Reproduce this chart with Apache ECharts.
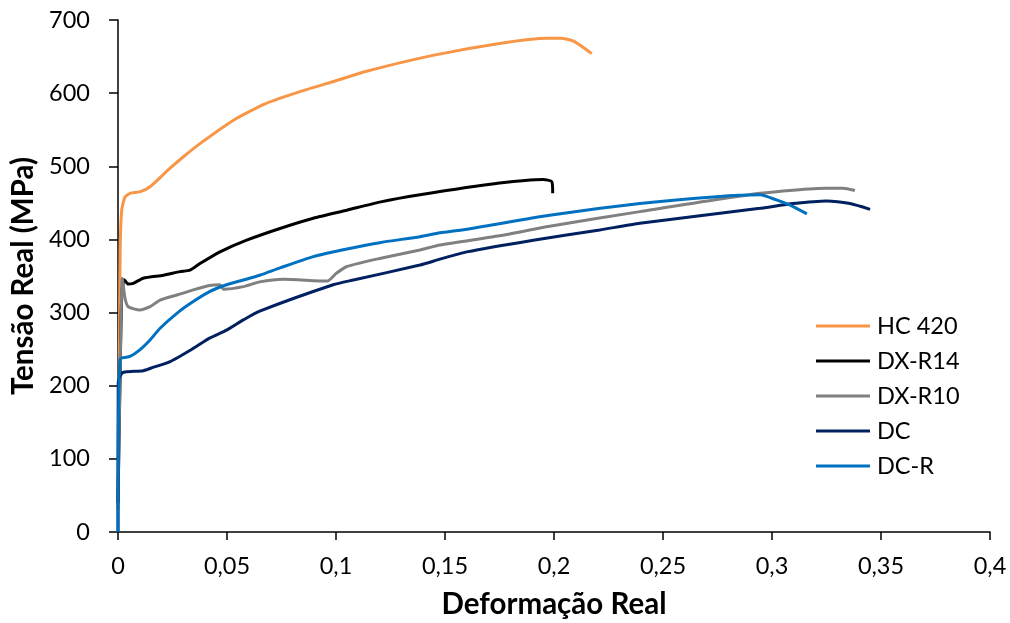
<!DOCTYPE html>
<html>
<head>
<meta charset="utf-8">
<script src="https://cdn.jsdelivr.net/npm/echarts@6/dist/echarts.min.js"></script>
<style>
  html, body { margin: 0; padding: 0; background: #fff; }
  #chart { width: 1010px; height: 623px; }
</style>
</head>
<body>
<div id="chart"></div>
<script>
// strain / stress pairs
const seriesNames = ['HC 420', 'DX-R14', 'DX-R10', 'DC', 'DC-R']
const seriesColors = ['#F79646', '#000000', '#808080', '#002060', '#0070C0']

const hcStrain = [0, 0.0005, 0.001, 0.0017, 0.0032, 0.0055, 0.010, 0.0147, 0.023, 0.030, 0.0376, 0.053, 0.068, 0.0835, 0.100, 0.114, 0.145, 0.175, 0.197, 0.203, 0.209, 0.2173]
const hcStress = [30, 200, 386, 440, 458, 463, 465, 472, 495, 513, 531, 563, 586, 602, 617, 630, 652, 668, 675, 675, 671, 654]

const r14Strain = [0, 0.001, 0.0017, 0.0028, 0.0047, 0.007, 0.0116, 0.0208, 0.0284, 0.033, 0.0376, 0.0468, 0.059, 0.0743, 0.0896, 0.105, 0.120, 0.1385, 0.175, 0.195, 0.199, 0.1994]
const r14Stress = [40, 220, 321, 345, 339, 340, 347, 351, 356, 358, 367, 383, 399, 415, 429, 440, 451, 461, 477, 482, 479, 463]

const r10Strain = [0, 0.001, 0.002, 0.0032, 0.0047, 0.010, 0.0147, 0.0193, 0.027, 0.0345, 0.042, 0.0468, 0.0483, 0.0575, 0.065, 0.0758, 0.096, 0.1003, 0.105, 0.120, 0.1385, 0.1477, 0.175, 0.198, 0.2394, 0.2945, 0.325, 0.3326, 0.338]
const r10Stress = [40, 230, 347, 320, 308, 303.5, 308, 317, 324, 331, 337, 338, 332, 335.5, 342, 345.6, 343, 354, 363, 374, 385.6, 392.4, 405, 418, 438, 463, 470, 470, 467]

const dcStrain = [0, 0.0001, 0.0017, 0.004, 0.0116, 0.016, 0.0239, 0.0345, 0.042, 0.0498, 0.0575, 0.065, 0.0987, 0.108, 0.1385, 0.1477, 0.16, 0.1905, 0.221, 0.2394, 0.2945, 0.3097, 0.325, 0.3358, 0.345]
const dcStress = [0, 204, 217, 219, 220.6, 225, 233, 251, 265, 276, 290, 302, 338, 344.5, 365, 373, 383, 399, 413, 422, 442.6, 449, 452.6, 449, 441]

const dcrStrain = [0, 0.0009, 0.0055, 0.010, 0.0147, 0.0193, 0.027, 0.0345, 0.042, 0.0498, 0.0575, 0.065, 0.0743, 0.0896, 0.105, 0.120, 0.1385, 0.1477, 0.16, 0.198, 0.2394, 0.2746, 0.2945, 0.302, 0.3097, 0.316]
const dcrStress = [0, 236, 240, 249, 262.5, 278.5, 299, 315, 328.6, 338, 344.5, 351, 361, 376.5, 387, 395.6, 403.8, 409, 414, 433, 449, 458.5, 461, 454, 445, 435]

const xTicks = [0, 0.05, 0.1, 0.15, 0.2, 0.25, 0.3, 0.35, 0.4]
const yTicks = [0, 100, 200, 300, 400, 500, 600, 700]

const strains = [hcStrain, r14Strain, r10Strain, dcStrain, dcrStrain]
const stresses = [hcStress, r14Stress, r10Stress, dcStress, dcrStress]

const font = 'Lato, "Noto Sans", sans-serif'

const chart = echarts.init(document.getElementById('chart'))

const option = {
  animation: false,
  textStyle: { fontFamily: font },
  grid: { left: 118, right: 20, top: 20, bottom: 91, containLabel: false, outerBoundsMode: 'none' },
  xAxis: {
    type: 'value',
    min: xTicks[0],
    max: xTicks[xTicks.length - 1],
    interval: 0.05,
    name: 'Deformação Real',
    nameLocation: 'middle',
    nameGap: 57,
    nameTextStyle: { fontSize: 29.5, fontWeight: 'bold', color: '#000', fontFamily: font },
    axisLine: { lineStyle: { color: '#000', width: 1.5 } },
    axisTick: { show: true, inside: false, length: 8, lineStyle: { color: '#000', width: 1.5 } },
    axisLabel: {
      margin: 22,
      fontSize: 23.5,
      color: '#000',
      fontFamily: font,
      formatter: v => String(+v.toFixed(2)).replace('.', ',')
    },
    splitLine: { show: false }
  },
  yAxis: {
    type: 'value',
    min: yTicks[0],
    max: yTicks[yTicks.length - 1],
    interval: 100,
    name: 'Tensão Real (MPa)',
    nameLocation: 'middle',
    nameGap: 76,
    nameTextStyle: { fontSize: 29.5, fontWeight: 'bold', color: '#000', fontFamily: font },
    axisLine: { show: true, lineStyle: { color: '#000', width: 1.5 } },
    axisTick: { show: true, inside: false, length: 9, lineStyle: { color: '#000', width: 1.5 } },
    axisLabel: { margin: 28, fontSize: 23.5, color: '#000', fontFamily: font },
    splitLine: { show: false }
  },
  legend: {
    orient: 'vertical',
    left: 811,
    top: 309,
    itemWidth: 54,
    itemHeight: 3,
    itemGap: 11,
    icon: 'rect',
    textStyle: { fontSize: 23.5, color: '#000', fontFamily: font, padding: [0, 0, 0, 2] },
    data: seriesNames
  },
  series: seriesNames.map((name, i) => ({
    name: name,
    type: 'line',
    data: strains[i].map((x, j) => [x, stresses[i][j]]),
    showSymbol: false,
    symbol: 'none',
    smooth: 0.2,
    lineStyle: { color: seriesColors[i], width: 3 },
    itemStyle: { color: seriesColors[i] }
  }))
}

chart.setOption(option)
</script>
</body>
</html>
